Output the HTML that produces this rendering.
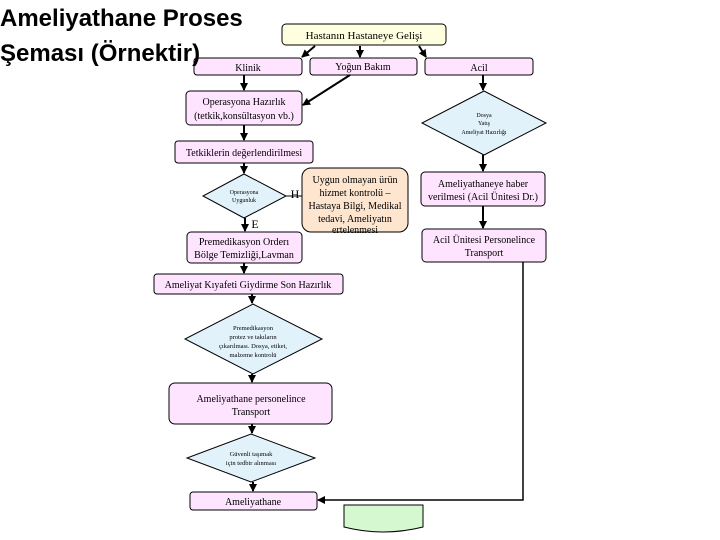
<!DOCTYPE html>
<html><head><meta charset="utf-8"><style>
body{margin:0;width:720px;height:540px;background:#fff;overflow:hidden;position:relative;font-family:"Liberation Serif",serif}
.t{position:absolute;left:0;font-family:"Liberation Sans",sans-serif;font-weight:bold;font-size:24px;color:#000;line-height:28px;z-index:2}
</style></head><body>
<svg width="720" height="540" style="position:absolute;left:0;top:0">
<defs><marker id="a" markerUnits="userSpaceOnUse" markerWidth="8" markerHeight="8" refX="7" refY="4" orient="auto"><path d="M0,0L8,4L0,8z" fill="#000"/></marker></defs>
<g stroke="#000" stroke-width="1">
<rect x="282" y="24" width="164" height="21" rx="4" fill="#ffffe0"/>
<g fill="#ffe4ff">
<rect x="194" y="58" width="108" height="17" rx="3"/>
<rect x="310" y="58" width="107" height="17" rx="3"/>
<rect x="425" y="58" width="108" height="17" rx="3"/>
<rect x="186" y="91" width="116" height="34" rx="4"/>
<rect x="175" y="141" width="138" height="22" rx="3"/>
<rect x="421" y="172" width="124" height="34" rx="4"/>
<rect x="422" y="229" width="124" height="33" rx="4"/>
<rect x="187" y="232" width="115" height="31" rx="4"/>
<rect x="154" y="274" width="189" height="20" rx="3"/>
<rect x="169" y="383" width="163" height="41" rx="6"/>
<rect x="190" y="492" width="127" height="18" rx="3"/>
</g>
<rect x="302" y="168" width="106" height="64" rx="9" fill="#fde5cf"/>
<g fill="#e2f2fb">
<polygon points="484,91 546,123 484,155 422,123"/>
<polygon points="244,174 286,196 244,218 203,196"/>
<polygon points="253,304 322,339 253,374 185,339"/>
<polygon points="251,434 315,458 251,482 187,458"/>
</g>
<path d="M344,505H423V527Q383,537 344,527Z" fill="#d6f8d0"/>
<line x1="286" y1="196" x2="302" y2="196"/>
</g>
<path d="M523,262V500H318" fill="none" stroke="#000" stroke-width="1.5" marker-end="url(#a)"/>
<g stroke="#000" stroke-width="2" fill="none" marker-end="url(#a)">
<line x1="315" y1="46" x2="302" y2="57"/>
<line x1="360" y1="46" x2="360" y2="57"/>
<line x1="419" y1="46" x2="426" y2="57"/>
<line x1="244" y1="75" x2="244" y2="90"/>
<line x1="350" y1="75" x2="303" y2="105"/>
<line x1="483" y1="75" x2="483" y2="90"/>
<line x1="244" y1="125" x2="244" y2="140"/>
<line x1="244" y1="163" x2="244" y2="173"/>
<line x1="245" y1="218" x2="245" y2="231"/>
<line x1="483" y1="155" x2="483" y2="171"/>
<line x1="483" y1="206" x2="483" y2="228"/>
<line x1="244" y1="263" x2="244" y2="273"/>
<line x1="252" y1="294" x2="252" y2="303"/>
<line x1="252" y1="374" x2="252" y2="382"/>
<line x1="252" y1="424" x2="252" y2="433"/>
<line x1="253" y1="482" x2="253" y2="491"/>
</g>
<g font-family="Liberation Serif,serif" font-size="10" text-anchor="middle" fill="#000">
<text x="364" y="39" font-size="11">Hastanın Hastaneye Gelişi</text>
<text x="248" y="71">Klinik</text>
<text x="363" y="70">Yoğun Bakım</text>
<text x="479" y="71">Acil</text>
<text x="244" y="105">Operasyona Hazırlık</text>
<text x="244" y="119">(tetkik,konsültasyon vb.)</text>
<text x="244" y="156">Tetkiklerin değerlendirilmesi</text>
<text x="484" y="117" font-size="6">Dosya</text>
<text x="484" y="125" font-size="6">Yatış</text>
<text x="484" y="134" font-size="6">Ameliyat Hazırlığı</text>
<text x="244" y="194" font-size="6">Operasyona</text>
<text x="244" y="202" font-size="6">Uygunluk</text>
<text x="295" y="198" font-size="12">H</text>
<text x="255" y="228" font-size="12">E</text>
<text x="355" y="183">Uygun olmayan ürün</text>
<text x="355" y="196">hizmet kontrolü –</text>
<text x="355" y="209">Hastaya Bilgi, Medikal</text>
<text x="355" y="222">tedavi, Ameliyatın</text>
<text x="355" y="233">ertelenmesi</text>
<text x="483" y="187">Ameliyathaneye haber</text>
<text x="483" y="200">verilmesi (Acil Ünitesi Dr.)</text>
<text x="484" y="243">Acil Ünitesi Personelince</text>
<text x="484" y="256">Transport</text>
<text x="244" y="245">Premedikasyon Orderı</text>
<text x="244" y="258">Bölge Temizliği,Lavman</text>
<text x="248" y="288">Ameliyat Kıyafeti Giydirme Son Hazırlık</text>
<text x="253" y="330" font-size="6.5">Premedikasyon</text>
<text x="253" y="339" font-size="6.5">protez ve takıların</text>
<text x="253" y="348" font-size="6.5">çıkarılması. Dosya, etiket,</text>
<text x="253" y="357" font-size="6.5">malzeme kontrolü</text>
<text x="251" y="402">Ameliyathane personelince</text>
<text x="251" y="415">Transport</text>
<text x="251" y="456" font-size="6.5">Güvenli taşımak</text>
<text x="251" y="465" font-size="6.5">için tedbir alınması</text>
<text x="253" y="505">Ameliyathane</text>
</g>
</svg>
<div class="t" style="top:5px">Ameliyathane Proses</div>
<div class="t" style="top:40px">Şeması (Örnektir)</div>
</body></html>
